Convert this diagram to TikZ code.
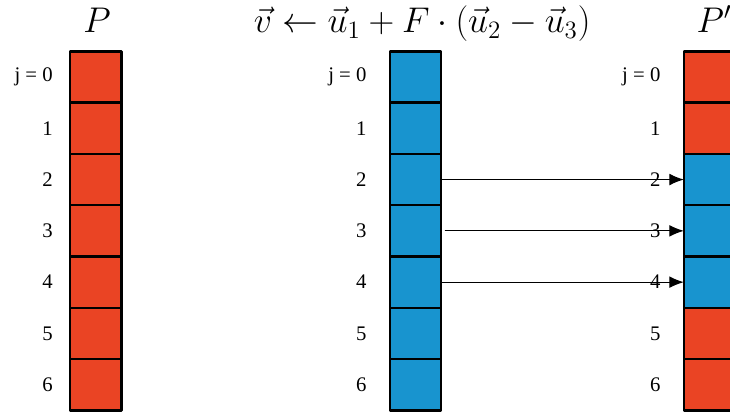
\RequirePackage{fix-cm}
\documentclass[tikz,border=0pt]{standalone}
\usepackage{amsmath}
\usepackage{fontspec}
\setmainfont{Liberation Serif}
\usepackage{tikz}
\usetikzlibrary{arrows.meta,positioning}
\definecolor{popred}{RGB}{234,68,36}
\definecolor{popblue}{RGB}{24,148,207}
\tikzset{
  every picture/.append style={line cap=round,line join=round},
  pop cell/.style={draw=black,line width=1.4pt,minimum width=1cm,minimum height=1cm,inner sep=0pt,outer sep=0pt},
  pop label/.style={font=\fontsize{11.5}{13}\selectfont,inner sep=0pt},
  pop title/.style={font=\fontsize{19.8}{24}\selectfont,anchor=base,inner sep=0pt},
  pop arrow/.style={line width=0.6pt,-{Latex[length=8pt,width=6.5pt]}}
}

\begin{document}
\begin{tikzpicture}
  \useasboundingbox (0,0) rectangle (14.23,-8.05);
  % population, donor vector, trial population
  \foreach \j in {0,...,6}
    \node[pop cell, fill=popred] (P-\j) at (1.865,-1.5-\j) {};
  \foreach \j in {0,...,6}
    \node[pop cell, fill=popblue] (U-\j) at (8.10,-1.5-\j) {};
  \foreach \j/\c in {0/popred,1/popred,2/popblue,3/popblue,4/popblue,5/popred,6/popred}
    \node[pop cell, fill=\c] (Q-\j) at (13.83,-1.5-\j) {};
  \node[pop title] (P-title) at (1.89,-0.64) {$P$};
  \node[pop title] (U-title) at (8.23,-0.64)
    {$\vec{v} \leftarrow \vec{u}_1 + F \cdot (\vec{u}_2 - \vec{u}_3)$};
  \node[pop title] (Q-title) at (13.92,-0.64) {$P'$};
  % crossover arrows
  \draw[pop arrow] (U-2.east) -- (Q-2.west);
  \draw[pop arrow, shorten <=0.08cm] (U-3.east) -- (Q-3.west);
  \draw[pop arrow] (U-4.east) -- (Q-4.west);
  \foreach \col/\gap in {P/0.33,U/0.45,Q/0.45}{
    \node[pop label, left=\gap cm of \col-0.west] (\col-lab-0) {j = 0};
    \foreach \j in {1,...,6}
      \node[pop label, left=\gap cm of \col-\j.west] (\col-lab-\j) {\j};
  }
\end{tikzpicture}
\end{document}
